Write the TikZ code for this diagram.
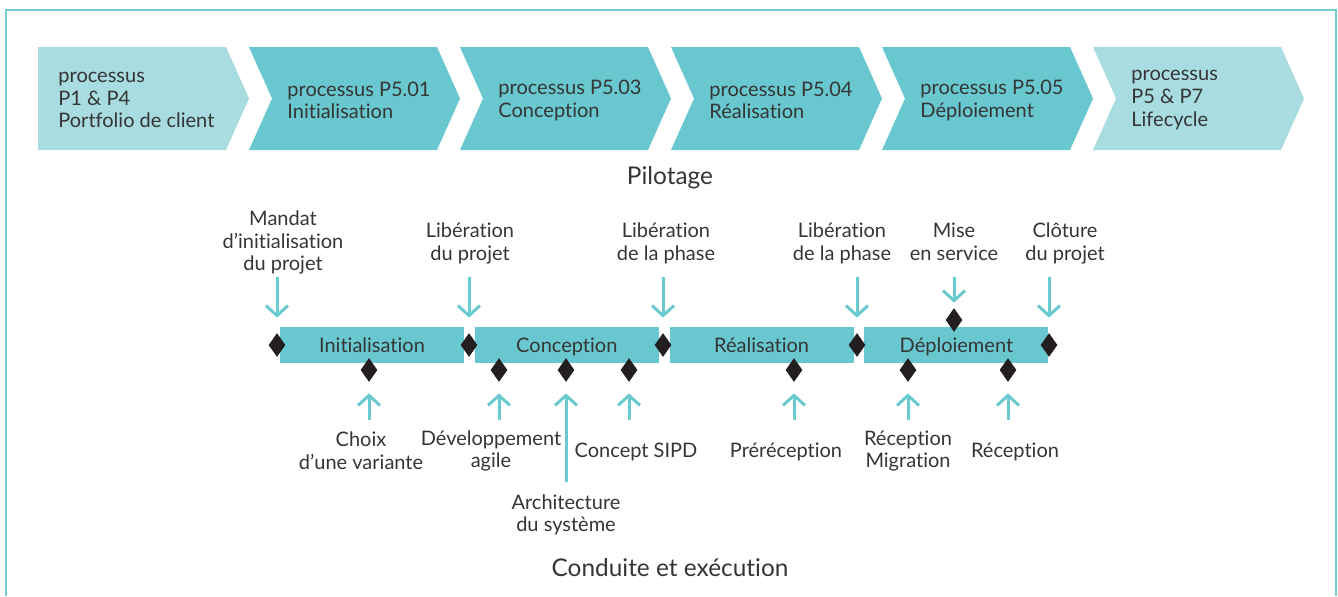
\documentclass[tikz,border=0pt]{standalone}
\usepackage{fontspec}
\setmainfont{Lato}[Ligatures=NoCommon]
\usetikzlibrary{positioning,arrows.meta,shapes.geometric}
\definecolor{phasecol}{HTML}{69C8CF}
\definecolor{outercol}{HTML}{A8DCE0}
\definecolor{framecol}{HTML}{74CFD5}
\definecolor{arrowcol}{HTML}{6BC9D0}
\definecolor{txtcol}{HTML}{353535}
\definecolor{diacol}{HTML}{231F20}
\newcommand{\lblfont}{\fontsize{10}{11.3}\selectfont}
\tikzset{
      phase/.style     = {fill=phasecol},
      outer/.style     = {fill=outercol},
      chevtext/.style  = {anchor=west, align=left, inner sep=0, text=txtcol, font=\lblfont},
      bar/.style       = {fill=phasecol, minimum width=92pt, minimum height=18pt, inner sep=0,
                          text height=8pt, text depth=0.3pt, text=txtcol, font=\lblfont},
      milestone/.style = {diamond, fill=diacol, inner sep=0, minimum width=8.5pt, minimum height=12pt},
      lbl/.style       = {align=center, inner sep=0, text=txtcol, font=\lblfont},
      pilot/.style     = {arrowcol, line width=1.5pt, -{Straight Barb[length=5pt,width=11pt]}},
      heading/.style   = {inner sep=0, text=txtcol, font=\fontsize{12.2}{14}\selectfont},
    }

\begin{document}
\begin{tikzpicture}[x=0.5pt, y=-0.5pt]
    \useasboundingbox (0,0) rectangle (1338,596);
    % frame
    \draw[framecol, line width=1pt] (6,596) -- (6,10) -- (1336,10) -- (1336,596);

    % process chain
    \fill[outer] (38,47) -- (226,47) -- (249,98.5) -- (226,150) -- (38,150) -- cycle;
    \foreach \x in {249,460,671,882}
      \fill[phase] (\x,47) -- ++(188,0) -- ++(23,51.5) -- ++(-23,51.5) -- ++(-188,0) -- ++(23,-51.5) -- cycle;
    \fill[outer] (1093,47) -- ++(188,0) -- ++(23,51.5) -- ++(-23,51.5) -- ++(-188,0) -- ++(23,-51.5) -- cycle;

    \node[chevtext] (p0) at (58,100) {processus\\P1 \& P4\\Portfolio de client};
    \node[chevtext] (p1) at (287,100.5) {processus P5.01\\Initialisation};
    \node[chevtext] (p3) at (498,100.5) {processus P5.03\\Conception};
    \node[chevtext] (p4) at (709,100.5) {processus P5.04\\Réalisation};
    \node[chevtext] (p5) at (920,100.5) {processus P5.05\\Déploiement};
    \node[chevtext] (p7) at (1131,100) {processus\\P5 \& P7\\Lifecycle};

    \node[heading] (pilotage) at (670,178) {Pilotage};

    % phases
    \node[bar] (init) at (372,345) {Initialisation};
    \node[bar, right=5pt of init] (conc) {Conception};
    \node[bar, right=5pt of conc] (real) {Réalisation};
    \node[bar, right=5pt of real] (depl) {Déploiement};

    % milestones
    \node[milestone] (m0) at (277,345) {};
    \node[milestone] (m1) at (469,345) {};
    \node[milestone] (m2) at (663,345) {};
    \node[milestone] (m3) at (857,345) {};
    \node[milestone] (m4) at (1049,345) {};
    \node[milestone] (ms) at (954,320) {};

    \node[milestone] (c1) at (369,370) {};
    \node[milestone] (c2) at (499,370) {};
    \node[milestone] (c3) at (566,370) {};
    \node[milestone] (c4) at (629,370) {};
    \node[milestone] (c5) at (794,370) {};
    \node[milestone] (c6) at (908,370) {};
    \node[milestone] (c7) at (1008,370) {};

    % pilotage decisions
    \node[lbl] (l0) at (283,242.5) {Mandat\\d’initialisation\\du projet};
    \node[lbl] (l1) at (470,243.5) {Libération\\du projet};
    \node[lbl] (l2) at (666,243.5) {Libération\\de la phase};
    \node[lbl] (l3) at (842,243.5) {Libération\\de la phase};
    \node[lbl] (l4) at (954,241.5) {Mise\\en service};
    \node[lbl] (l5) at (1065,243.5) {Clôture\\du projet};

    \coordinate (t0) at (277,277);
    \coordinate (t1) at (469,277);
    \coordinate (t2) at (663,277);
    \coordinate (t3) at (857,277);
    \coordinate (t4) at (954,277);
    \coordinate (t5) at (1049,277);

    \draw[pilot, shorten >=7.5pt] (t0) -- (m0);
    \draw[pilot, shorten >=7.5pt] (t1) -- (m1);
    \draw[pilot, shorten >=7.5pt] (t2) -- (m2);
    \draw[pilot, shorten >=7.5pt] (t3) -- (m3);
    \draw[pilot, shorten >=2.5pt] (t4) -- (ms);
    \draw[pilot, shorten >=7.5pt] (t5) -- (m4);

    % results
    \node[lbl] (r1) at (361,451) {Choix\\d’une variante};
    \node[lbl] (r2) at (491,451) {Développement\\agile};
    \node[lbl] (r3) at (566,515) {Architecture\\du système};
    \node[lbl] (r4) at (636,452) {Concept SIPD};
    \node[lbl] (r5) at (786,452) {Préréception};
    \node[lbl] (r6) at (908,451) {Réception\\Migration};
    \node[lbl] (r7) at (1015,452) {Réception};

    \coordinate (b1) at (369,420);
    \coordinate (b2) at (499,420);
    \coordinate (b3) at (566,482);
    \coordinate (b4) at (629,420);
    \coordinate (b5) at (794,420);
    \coordinate (b6) at (908,420);
    \coordinate (b7) at (1008,420);

    \draw[pilot, shorten >=5.5pt] (b1) -- (c1);
    \draw[pilot, shorten >=5.5pt] (b2) -- (c2);
    \draw[pilot, shorten >=5.5pt] (b3) -- (c3);
    \draw[pilot, shorten >=5.5pt] (b4) -- (c4);
    \draw[pilot, shorten >=5.5pt] (b5) -- (c5);
    \draw[pilot, shorten >=5.5pt] (b6) -- (c6);
    \draw[pilot, shorten >=5.5pt] (b7) -- (c7);

    \node[heading] (conduite) at (670,568) {Conduite et exécution};
\end{tikzpicture}
\end{document}
